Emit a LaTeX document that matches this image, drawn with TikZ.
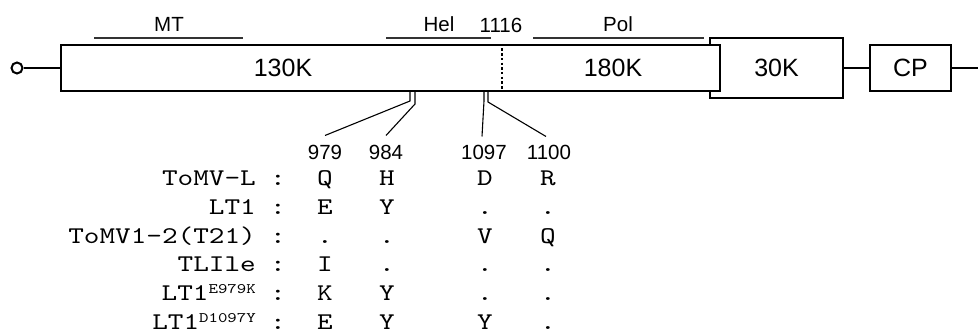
\documentclass[tikz,border=0pt]{standalone}
\usepackage{fontspec}
\setmainfont{Liberation Sans}
\newfontfamily\seqfont[FakeStretch=1.24]{lmmono10-regular.otf}
\newcommand{\strainsup}[1]{\raisebox{7pt}{\fontsize{14.5}{14.5}\selectfont #1}}

\begin{document}
\begin{tikzpicture}[x=1pt,y=-1pt,
  box/.style={draw, line width=2.4pt, fill=white, inner sep=0pt,
              font=\fontsize{25}{25}\selectfont},
  dombar/.style={line width=1.4pt, draw=black!80},
  dlabel/.style={font=\fontsize{20.5}{20.5}\selectfont, anchor=base, inner sep=0pt},
  seq/.style={font=\seqfont\fontsize{24}{24}\selectfont, anchor=base, inner sep=0pt},
  lead/.style={line width=1.1pt},
  link/.style={line width=2.2pt}]
\useasboundingbox (0,0) rectangle (978,334);

% genome boxes
\node[box, minimum width=133pt, minimum height=60pt] (mp) at (776.5,68) {30K};
\node[box, minimum width=659pt, minimum height=46pt] (orf) at (390.5,68) {};
\node[box, minimum width=81pt, minimum height=46pt] (cp) at (910.5,68) {CP};
\node[font=\fontsize{25}{25}\selectfont] (t130) at (283,68) {130K};
\node[font=\fontsize{25}{25}\selectfont] (t180) at (613,68) {180K};

% 5' cap and connecting lines
\node[circle, draw, line width=2pt, minimum size=11pt, inner sep=0pt] (cap) at (17,68) {};
\coordinate (tail) at (978,68);
\draw[link] (cap.east) -- (orf.west);
\draw[link] (mp.east) -- (cp.west);
\draw[link] (cp.east) -- (tail);

% readthrough stop codon
\draw[line width=2.4pt, dash pattern=on 2.5pt off 2.2pt] (502,0 |- orf.north) -- (502,0 |- orf.south);

% functional domains
\coordinate (mt1) at (94,38);  \coordinate (mt2) at (243,38);
\coordinate (he1) at (386,38); \coordinate (he2) at (491,38);
\coordinate (po1) at (533,38); \coordinate (po2) at (704,38);
\draw[dombar] (mt1) -- (mt2);
\draw[dombar] (he1) -- (he2);
\draw[dombar] (po1) -- (po2);
\node[dlabel] (lmt) at (169,32) {MT};
\node[dlabel] (lhe) at (439,32) {Hel};
\node[dlabel] (l1116) at (501,33) {1116};
\node[dlabel] (lpo) at (618,32) {Pol};

% residue positions
\node[dlabel] (n979) at (325,160) {979};
\node[dlabel] (n984) at (386,160) {984};
\node[dlabel] (n1097) at (484,160) {1097};
\node[dlabel] (n1100) at (549,160) {1100};
\draw[lead] (410,0 |- orf.south) -- (410,101) -- ([yshift=10pt]n979.north);
\draw[lead] (415,0 |- orf.south) -- (415,104) -- ([yshift=10pt]n984.north);
\draw[lead] (484,0 |- orf.south) -- (484,101) -- ([xshift=-2pt,yshift=9pt]n1097.north);
\draw[lead] (488,0 |- orf.south) -- (488,102) -- ([xshift=-3pt,yshift=9pt]n1100.north);

% residue table
\foreach \lab/\ra/\rb/\rc/\rd [count=\i] in {
    ToMV-L/Q/H/D/R,
    LT1/E/Y/./.,
    ToMV1-2(T21)/././V/Q,
    TLIle/I/././.,
    LT1\strainsup{E979K}/K/Y/./.,
    LT1\strainsup{D1097Y}/E/Y/Y/.} {
  \pgfmathsetmacro\yy{185.5+28.8*(\i-1)}
  \node[seq, anchor=base east] (lab\i) at (256,\yy) {\lab};
  \node[seq] (sep\i) at (278,\yy) {:};
  \node[seq] (ca\i) at (325,\yy) {\ra};
  \node[seq] (cb\i) at (387,\yy) {\rb};
  \node[seq] (cc\i) at (485,\yy) {\rc};
  \node[seq] (cd\i) at (548,\yy) {\rd};
}
\end{tikzpicture}
\end{document}
